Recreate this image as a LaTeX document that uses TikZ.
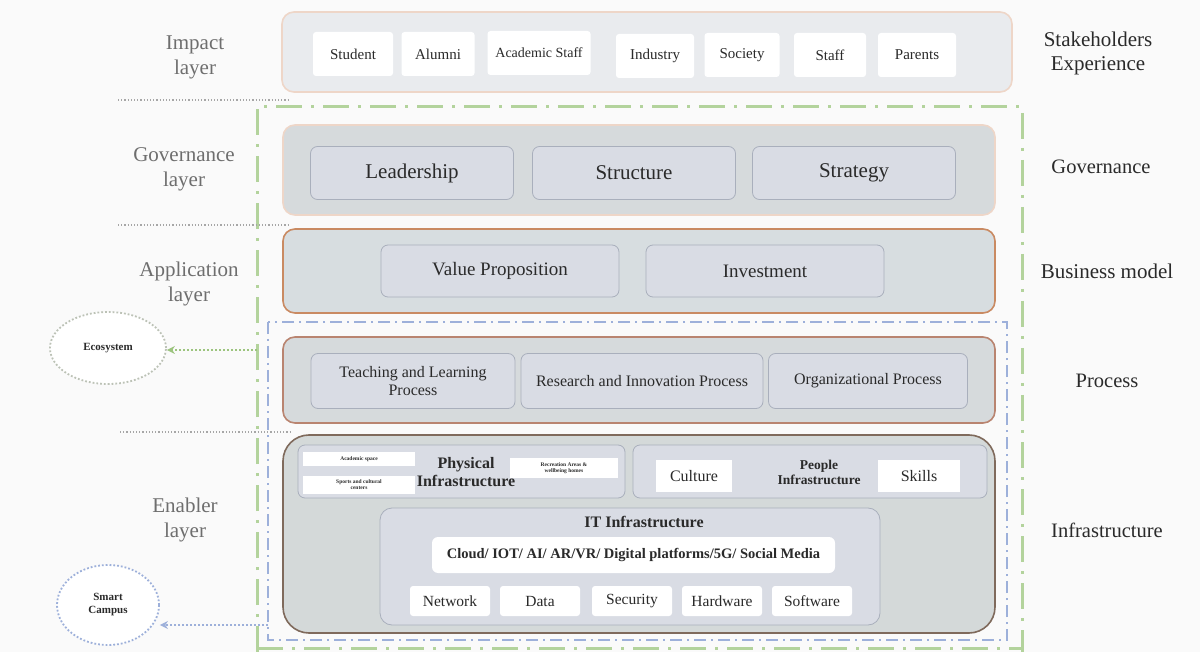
\documentclass[tikz,border=0pt]{standalone}
\usepackage{fontspec}
\setmainfont{Liberation Serif}
\usetikzlibrary{shapes.geometric,arrows.meta}
\definecolor{bg}{HTML}{FAFAFA}
\definecolor{layerfill}{HTML}{D6DADC}
\definecolor{impactfill}{HTML}{E9EBEE}
\definecolor{busfill}{HTML}{D7DDE0}
\definecolor{infrafill}{HTML}{D4D9D9}
\definecolor{innerfill}{HTML}{D9DCE4}
\definecolor{innerline}{HTML}{A9AFBC}
\definecolor{peach}{HTML}{EED6C8}
\definecolor{orangeline}{HTML}{C98A62}
\definecolor{brownline}{HTML}{B98470}
\definecolor{darkbrown}{HTML}{7F6A5C}
\definecolor{greendash}{HTML}{B3D39C}
\definecolor{greenarrow}{HTML}{9CC47E}
\definecolor{ecoline}{HTML}{BCC2B6}
\definecolor{bluedash}{HTML}{9DB0DA}
\definecolor{labelgray}{HTML}{6E6E6E}
\definecolor{textdark}{HTML}{2A2A2A}
\tikzset{
  layer/.style={draw, line width=1.6pt, rounded corners=12pt, fill=layerfill},
  inner/.style={draw=innerline, line width=0.8pt, rounded corners=7pt, fill=innerfill, text=textdark, align=center},
  whitebox/.style={fill=white, rounded corners=3pt, text=textdark, align=center},
  leftlabel/.style={text=labelgray, align=center, font=\fontsize{21}{25}\selectfont},
  rightlabel/.style={text=textdark, align=center, font=\fontsize{20.5}{24}\selectfont},
  sepline/.style={draw=gray!70, line width=1.2pt, dotted},
  greenframe/.style={draw=greendash, line width=3pt, dash pattern=on 26pt off 9pt on 3pt off 9pt},
  blueframe/.style={draw=bluedash, line width=1.6pt, dash pattern=on 12pt off 5pt on 2pt off 5pt},
}
\begin{document}
\begin{tikzpicture}[x=1pt,y=-1pt]
\useasboundingbox (0,0) rectangle (1200,652);
\fill[bg] (0,0) rectangle (1200,652);

% ---- outer frames ----
\draw[greenframe] (257,652) -- (257,107) -- (1022,107) -- (1022,652);
\draw[greenframe] (257,648) -- (1022,648);
\draw[blueframe] (268,322) rectangle (1007,640);

% ---- left layer labels and separators ----
\node[leftlabel] (limpact) at (195,57) {Impact\\layer};
\node[leftlabel] (lgov) at (184,169) {Governance\\layer};
\node[leftlabel] (lapp) at (189,284) {Application\\layer};
\node[leftlabel] (lenab) at (185,520) {Enabler\\layer};
\draw[sepline] (118,100) -- (288,100);
\draw[sepline] (118,225) -- (290,225);
\draw[sepline] (120,432) -- (290,432);

% ---- right labels ----
\node[rightlabel, font=\fontsize{21}{24}\selectfont] (rstake) at (1098,53) {Stakeholders\\Experience};
\node[rightlabel] (rgov) at (1101,167) {Governance};
\node[rightlabel, font=\fontsize{21}{24}\selectfont] (rbus) at (1107,271) {Business model};
\node[rightlabel] (rproc) at (1107,381) {Process};
\node[rightlabel] (rinfra) at (1107,530) {Infrastructure};

% ---- impact layer ----
\node[draw=peach, line width=1.6pt, rounded corners=12pt, fill=impactfill, minimum width=730pt, minimum height=80pt] (impact) at (647,52) {};
\begin{scope}[every node/.append style={whitebox, minimum height=44pt, font=\fontsize{15}{17}\selectfont}]
\node[minimum width=80pt] (student) at (353,54) {Student};
\node[minimum width=73pt] (alumni) at (438,54) {Alumni};
\node[minimum width=103pt, font=\fontsize{14}{16}\selectfont] (acstaff) at (539,53) {Academic Staff};
\node[minimum width=78pt] (industry) at (655,56) {Industry};
\node[minimum width=75pt] (society) at (742,55) {Society};
\node[minimum width=72pt] (staff) at (830,55) {Staff};
\node[minimum width=78pt] (parents) at (917,55) {Parents};
\end{scope}

% ---- governance layer ----
\node[layer, draw=peach, minimum width=712pt, minimum height=90pt] (gov) at (639,170) {};
\begin{scope}[every node/.append style={inner, minimum width=203pt, minimum height=53pt, font=\fontsize{21}{23}\selectfont}]
\node (lead) at (412,173) {Leadership};
\node (struct) at (634,173) {Structure};
\node (strat) at (854,173) {Strategy};
\end{scope}

% ---- business model layer ----
\node[layer, draw=orangeline, fill=busfill, minimum width=712pt, minimum height=84pt] (bus) at (639,271) {};
\begin{scope}[every node/.append style={inner, minimum width=238pt, minimum height=52pt, font=\fontsize{19}{21}\selectfont}]
\node (value) at (500,271) {Value Proposition};
\node (invest) at (765,271) {Investment};
\end{scope}

% ---- process layer ----
\node[layer, draw=brownline, minimum width=712pt, minimum height=86pt] (proc) at (639,380) {};
\begin{scope}[every node/.append style={inner, minimum height=55pt, font=\fontsize{16}{18}\selectfont}]
\node[minimum width=204pt] (teach) at (413,381) {Teaching and Learning\\Process};
\node[minimum width=242pt] (research) at (642,381) {Research and Innovation Process};
\node[minimum width=199pt] (org) at (868,381) {Organizational Process};
\end{scope}

% ---- infrastructure layer ----
\node[layer, draw=darkbrown, rounded corners=26pt, fill=infrafill, minimum width=712pt, minimum height=198pt] (infra) at (639,534) {};
\node[inner, minimum width=327pt, minimum height=53pt] (phys) at (461.5,471.5) {};
\node[inner, minimum width=354pt, minimum height=53pt] (people) at (810,471.5) {};
\node[inner, rounded corners=12pt, minimum width=500pt, minimum height=117pt] (it) at (630,566.5) {};

\node[whitebox, rounded corners=0pt, minimum width=112pt, minimum height=14pt, inner sep=1pt, font=\fontsize{5.5}{6}\selectfont\bfseries] (acspace) at (359,459) {Academic space};
\node[whitebox, rounded corners=0pt, minimum width=112pt, minimum height=18pt, inner sep=1pt, font=\fontsize{5.5}{6}\selectfont\bfseries] (sports) at (359,485) {Sports and cultural\\centers};
\node[text=textdark, align=center, font=\fontsize{16}{18}\selectfont\bfseries] (physlbl) at (466,472) {Physical\\Infrastructure};
\node[whitebox, rounded corners=0pt, minimum width=108pt, minimum height=20pt, inner sep=1pt, font=\fontsize{5.5}{6}\selectfont\bfseries] (recre) at (564,468) {Recreation Areas \&\\wellbeing homes};

\node[whitebox, rounded corners=0pt, minimum width=76pt, minimum height=32pt, font=\fontsize{16}{18}\selectfont] (culture) at (694,476) {Culture};
\node[text=textdark, align=center, font=\fontsize{13.5}{15}\selectfont\bfseries] (peoplelbl) at (819,472) {People\\Infrastructure};
\node[whitebox, rounded corners=0pt, minimum width=82pt, minimum height=32pt, font=\fontsize{16}{18}\selectfont] (skills) at (919,476) {Skills};

\node[text=textdark, font=\fontsize{16}{18}\selectfont\bfseries] (itlbl) at (644,522) {IT Infrastructure};
\node[whitebox, rounded corners=6pt, minimum width=403pt, minimum height=36pt, font=\fontsize{14.5}{16}\selectfont\bfseries] (tech) at (633.5,555) {Cloud/ IOT/ AI/ AR/VR/ Digital platforms/5G/ Social Media};
\begin{scope}[every node/.append style={whitebox, minimum width=80pt, minimum height=30pt, font=\fontsize{15.5}{17}\selectfont}]
\node (network) at (450,601) {Network};
\node (data) at (540,601) {Data};
\node (security) at (632,601) {Security};
\node (hardware) at (722,601) {Hardware};
\node (software) at (812,601) {Software};
\end{scope}

% ---- outcomes on the left ----
\node[ellipse, draw=ecoline, line width=1.8pt, dotted, fill=white, minimum width=116pt, minimum height=72pt, font=\fontsize{11}{13}\selectfont\bfseries, text=textdark] (eco) at (108,348) {Ecosystem};
\node[ellipse, draw=bluedash, line width=1.8pt, dotted, fill=white, minimum width=102pt, minimum height=80pt, align=center, font=\fontsize{11}{13}\selectfont\bfseries, text=textdark] (smart) at (108,605) {Smart\\Campus};
\coordinate (ecofrom) at (257,350);
\coordinate (smartfrom) at (268,625);
\draw[draw=greenarrow, line width=2pt, dotted, -{Stealth[open, length=8pt, width=8pt]}] (ecofrom) -- (eco.east |- ecofrom);
\draw[draw=bluedash, line width=2pt, dotted, -{Stealth[open, length=8pt, width=8pt]}] (smartfrom) -- (smart.east |- smartfrom);
\end{tikzpicture}
\end{document}
